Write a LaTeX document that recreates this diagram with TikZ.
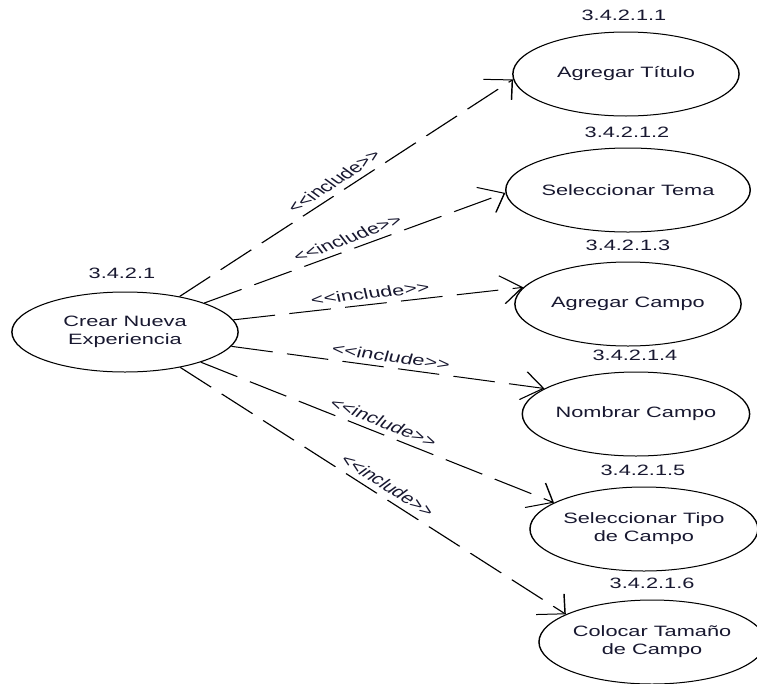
\documentclass[tikz,border=0pt]{standalone}
\usepackage{fontspec}
\setmainfont{Liberation Sans}
\usetikzlibrary{shapes.geometric,arrows.meta}
\definecolor{ink}{RGB}{24,24,48}
\newcommand{\incltext}{<\kern0pt<include>\kern0pt>}
\begin{document}
\begin{tikzpicture}[x=1pt,y=-1pt,
  txt/.style={text=ink, font=\fontsize{15}{18}\selectfont},
  usecase/.style={txt, draw=black, line width=1pt, ellipse,
    minimum width=156pt, minimum height=84pt, inner sep=0pt, align=center},
  tag/.style={txt, inner sep=0pt},
  incl/.style={draw=black, line width=1pt, dash pattern=on 29pt off 10pt,
    -{Straight Barb[angle=90:20pt]}},
  stereo/.style={txt, sloped, above=5pt, inner sep=0pt}]
\path[use as bounding box, fill=white] (0,0) rectangle (757,683);
% the whole diagram is widened horizontally
\begin{scope}[transform canvas={xscale=1.45}]
  % use cases
  \node[usecase, minimum height=80pt] (main) at (86.2,332) {Crear Nueva\\Experiencia};
  \node[usecase] (e1) at (431.7,74)  {Agregar Título};
  \node[usecase] (e2) at (433.1,190) {Seleccionar Tema};
  \node[usecase] (e3) at (433.1,304) {Agregar Campo};
  \node[usecase] (e4) at (438.6,414) {Nombrar Campo};
  \node[usecase] (e5) at (444.1,529) {Seleccionar Tipo\\de Campo};
  \node[usecase] (e6) at (449.7,642) {Colocar Tamaño\\de Campo};
  % identifiers
  \node[tag] (n0) at (84.1,273)  {3.4.2.1};
  \node[tag] (n1) at (430.3,15)  {3.4.2.1.1};
  \node[tag] (n2) at (432.4,132) {3.4.2.1.2};
  \node[tag] (n3) at (433.1,245) {3.4.2.1.3};
  \node[tag] (n4) at (437.9,355) {3.4.2.1.4};
  \node[tag] (n5) at (443.4,470) {3.4.2.1.5};
  \node[tag] (n6) at (449.7,583) {3.4.2.1.6};
  % include relations
  \draw[incl] (main) -- node[stereo, pos=0.495] (l1) {\incltext} (e1.184);
  \draw[incl] (main) -- node[stereo, pos=0.50]  (l2) {\incltext} (e2.182);
  \draw[incl] (main) -- node[stereo, pos=0.48]  (l3) {\incltext} (e3.167);
  \draw[incl] (main) -- node[stereo, pos=0.50]  (l4) {\incltext} (e4.158);
  \draw[incl] (main) -- node[stereo, pos=0.495] (l5) {\incltext} (e5.157.5);
  \draw[incl] (main) -- node[stereo, pos=0.51]  (l6) {\incltext} (e6.155.8);
\end{scope}
\end{tikzpicture}
\end{document}
